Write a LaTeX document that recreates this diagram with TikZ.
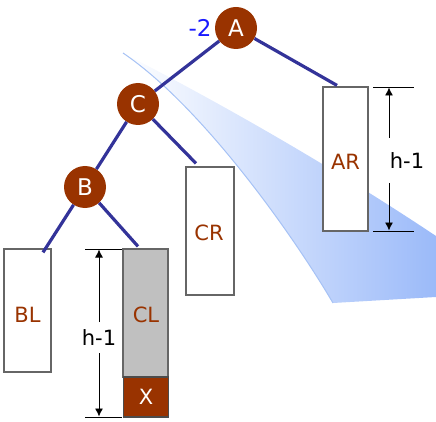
\documentclass[tikz,border=0pt]{standalone}
\usepackage{fontspec}
\setmainfont{DejaVu Sans}
\usetikzlibrary{arrows.meta,calc}
\definecolor{nodebrown}{HTML}{993300}
\definecolor{edgeblue}{HTML}{333399}
\definecolor{minusblue}{HTML}{1A1AFF}
\definecolor{swooshblue}{HTML}{9BBAF9}
\definecolor{swooshedge}{HTML}{A6C2F5}
\definecolor{boxgrey}{HTML}{C0C0C0}
\definecolor{boxline}{HTML}{666666}
\begin{document}
\begin{tikzpicture}[x=1pt,y=-1pt,
  treenode/.style={circle,fill=nodebrown,text=white,minimum size=42pt,inner sep=0pt,font=\fontsize{23}{26}\selectfont},
  subtree/.style={draw=boxline,fill=white,line width=1.2pt,inner sep=0pt},
  lbl/.style={text=nodebrown,font=\fontsize{21}{24}\selectfont,inner sep=0pt},
  dimlbl/.style={text=black,font=\fontsize{21}{24}\selectfont,inner sep=0pt},
  treeedge/.style={draw=edgeblue,line width=3.2pt},
  ticks/.style={line width=0.9pt},
  dimarrow/.style={line width=0.9pt,-{Latex[length=8pt,width=8pt]}}]
\useasboundingbox (0,0) rectangle (436,422);
% swoosh
\shade[left color=white,right color=swooshblue]
  (123,53) .. controls (230,108) and (340,172) .. (436,236) -- (436,297) -- (333,303)
  .. controls (290,230) and (200,105) .. (123,53) -- cycle;
\draw[swooshedge,line width=1pt] (333,303) .. controls (290,230) and (200,105) .. (123,53);
% subtrees
\node[subtree,minimum width=45pt,minimum height=144pt] (AR) at (345.5,159) {};
\node[subtree,minimum width=48pt,minimum height=128pt] (CR) at (210,231) {};
\node[subtree,minimum width=47pt,minimum height=123pt] (BL) at (27.5,310.5) {};
\node[subtree,fill=boxgrey,minimum width=45pt,minimum height=128pt] (CL) at (145.5,313) {};
\node[subtree,draw=black!70,fill=nodebrown,minimum width=45pt,minimum height=40pt] (X) at (146,397) {};
\node[lbl] (ARt) at (345.5,162) {AR};
\node[lbl] (CRt) at (209,233) {CR};
\node[lbl] (BLt) at (27.5,315) {BL};
\node[lbl] (CLt) at (146,315) {CL};
\node[lbl,text=white] (Xt) at (146,397) {X};
% tree nodes
\node[treenode] (A) at (236,28) {A};
\node[treenode] (C) at (138,104) {C};
\node[treenode] (B) at (85,187) {B};
\node[text=minusblue,font=\fontsize{23}{26}\selectfont,inner sep=0pt] (bal) at (200,28) {-2};
% edges
\draw[treeedge] (A) -- ($(AR.north)+(-8.5,-1)$);
\draw[treeedge] (A) -- (C);
\draw[treeedge] (C) -- (B);
\draw[treeedge] (C) -- ($(CR.north)+(-14,-3)$);
\draw[treeedge] (B) -- ($(BL.north)+(15.5,4)$);
\draw[treeedge] (B) -- ($(CL.north)+(-7.5,-2)$);
% right dimension
\coordinate (rt1) at (373,87); \coordinate (rt2) at (414,87);
\coordinate (rb1) at (373,231); \coordinate (rb2) at (414,231);
\draw[ticks] (rt1) -- (rt2);
\draw[ticks] (rb1) -- (rb2);
\node[dimlbl] (hR) at (407,161) {h-1};
\coordinate (ra1) at (389,138); \coordinate (ra2) at (389,87.5);
\coordinate (ra3) at (389,183); \coordinate (ra4) at (389,230.5);
\draw[dimarrow] (ra1) -- (ra2);
\draw[dimarrow] (ra3) -- (ra4);
% left dimension
\coordinate (lt1) at (85,249); \coordinate (lt2) at (122,249);
\coordinate (lb1) at (85,417); \coordinate (lb2) at (122,417);
\draw[ticks] (lt1) -- (lt2);
\draw[ticks] (lb1) -- (lb2);
\node[dimlbl] (hL) at (99,338) {h-1};
\draw[dimarrow] (hL.north |- 0,322) -- (hL.north |- 0,249.5);
\draw[dimarrow] (hL.south |- 0,353) -- (hL.south |- 0,416.5);
\end{tikzpicture}
\end{document}
